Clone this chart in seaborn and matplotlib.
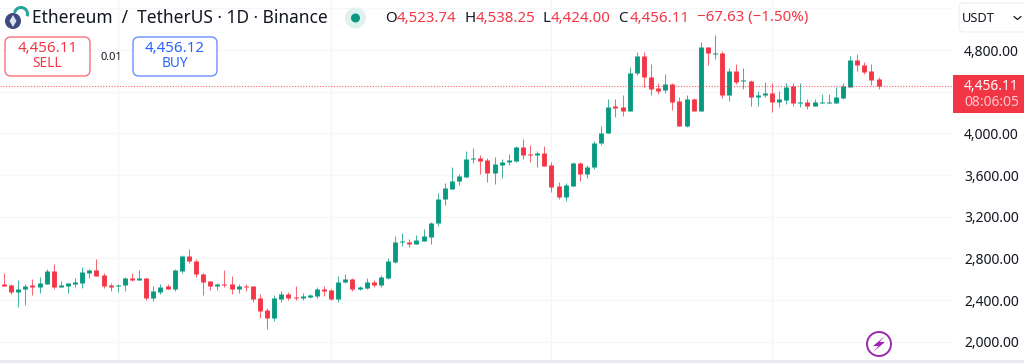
import numpy as np
import pandas as pd
import matplotlib
matplotlib.use('Agg')
import matplotlib.pyplot as plt
from matplotlib.patches import Circle, FancyBboxPatch, Polygon, Rectangle, Wedge
import seaborn as sns

# Daily ETH/USDT candles
opens = [2554, 2544, 2480, 2502, 2541, 2525, 2557, 2675, 2528, 2534,
         2557, 2563, 2662, 2688, 2637, 2544, 2531, 2541, 2611, 2595,
         2611, 2419, 2480, 2531, 2509, 2682, 2819, 2778, 2650, 2582,
         2531, 2554, 2554, 2509, 2534, 2531, 2416, 2304, 2227, 2410,
         2454, 2429, 2422, 2429, 2442, 2506, 2493, 2410, 2573, 2598,
         2509, 2515, 2576, 2547, 2614, 2765, 2957, 2960, 2941, 2970,
         3008, 3139, 3366, 3469, 3539, 3584, 3754, 3763, 3741, 3622,
         3696, 3725, 3734, 3872, 3798, 3789, 3811, 3696, 3494, 3386,
         3494, 3718, 3610, 3677, 3907, 4003, 4259, 4250, 4214, 4576,
         4742, 4544, 4432, 4413, 4470, 4310, 4070, 4333, 4214, 4826,
         4765, 4771, 4368, 4595, 4499, 4506, 4352, 4365, 4384, 4304,
         4320, 4451, 4291, 4301, 4266, 4291, 4294, 4294, 4339, 4448,
         4704, 4659, 4598, 4523.74]
highs = [2662, 2550, 2592, 2550, 2598, 2621, 2694, 2746, 2582, 2566,
         2608, 2720, 2698, 2797, 2659, 2560, 2554, 2621, 2659, 2688,
         2611, 2538, 2554, 2554, 2694, 2832, 2886, 2790, 2656, 2582,
         2566, 2688, 2630, 2554, 2554, 2534, 2454, 2323, 2445, 2490,
         2474, 2534, 2470, 2458, 2528, 2534, 2502, 2627, 2646, 2611,
         2534, 2614, 2589, 2640, 2803, 3011, 3043, 2982, 3024, 3082,
         3146, 3424, 3523, 3677, 3610, 3827, 3856, 3795, 3760, 3770,
         3750, 3798, 3882, 3942, 3888, 3834, 3878, 3725, 3536, 3520,
         3728, 3722, 3696, 3930, 4067, 4326, 4326, 4365, 4634, 4778,
         4778, 4666, 4480, 4570, 4480, 4346, 4368, 4336, 4877, 4826,
         4947, 4787, 4630, 4662, 4627, 4512, 4406, 4493, 4483, 4410,
         4480, 4480, 4486, 4326, 4333, 4378, 4378, 4448, 4480, 4742,
         4765, 4685, 4666, 4538.25]
lows = [2534, 2458, 2336, 2355, 2448, 2464, 2554, 2509, 2525, 2470,
        2528, 2515, 2614, 2627, 2515, 2486, 2477, 2490, 2582, 2592,
        2403, 2387, 2461, 2502, 2490, 2662, 2752, 2624, 2448, 2493,
        2499, 2522, 2461, 2467, 2490, 2381, 2227, 2122, 2202, 2384,
        2403, 2400, 2397, 2419, 2419, 2442, 2397, 2381, 2560, 2490,
        2499, 2506, 2528, 2528, 2598, 2758, 2922, 2912, 2938, 2966,
        2941, 3107, 3315, 3462, 3507, 3584, 3712, 3613, 3530, 3510,
        3574, 3699, 3728, 3750, 3722, 3677, 3686, 3434, 3373, 3354,
        3494, 3546, 3568, 3654, 3885, 4000, 4154, 4166, 4214, 4563,
        4448, 4365, 4374, 4390, 4221, 4070, 4064, 4211, 4211, 4653,
        4710, 4336, 4314, 4477, 4429, 4266, 4259, 4352, 4208, 4256,
        4282, 4266, 4253, 4237, 4262, 4288, 4288, 4288, 4333, 4448,
        4602, 4570, 4464, 4424.00]
closes = [2538, 2480, 2506, 2534, 2528, 2560, 2675, 2522, 2541, 2560,
          2570, 2666, 2688, 2634, 2534, 2528, 2544, 2611, 2592, 2611,
          2416, 2483, 2528, 2509, 2688, 2819, 2774, 2646, 2576, 2531,
          2554, 2544, 2506, 2531, 2522, 2410, 2298, 2227, 2416, 2454,
          2416, 2416, 2435, 2448, 2506, 2486, 2410, 2576, 2598, 2509,
          2525, 2576, 2547, 2621, 2774, 2954, 2966, 2941, 2973, 3014,
          3142, 3370, 3475, 3546, 3590, 3757, 3763, 3738, 3622, 3706,
          3725, 3741, 3872, 3792, 3789, 3811, 3690, 3488, 3386, 3501,
          3718, 3610, 3680, 3907, 4006, 4256, 4246, 4211, 4582, 4742,
          4541, 4429, 4410, 4470, 4304, 4070, 4333, 4214, 4826, 4771,
          4774, 4368, 4595, 4493, 4509, 4352, 4368, 4384, 4304, 4326,
          4448, 4291, 4301, 4266, 4301, 4301, 4301, 4346, 4451, 4704,
          4653, 4592, 4509, 4456.11]
y_ticks = [2000, 2400, 2800, 3200, 3600, 4000, 4400, 4800, 5200]
y_tick_labels = ['2,000.00', '2,400.00', '2,800.00', '3,200.00', '3,600.00',
                 '4,000.00', '', '4,800.00', '']
month_starts = [16, 46, 77, 108]
last_price = 4456.11

GREEN = '#089981'
RED = '#f23645'
INK = '#131722'
FONT = ['Noto Sans', 'DejaVu Sans']

sns.set_theme(style='white')
plt.rcParams['font.family'] = FONT

days = np.arange(len(opens))
direction = np.where(np.array(closes) >= np.array(opens), 'up', 'down')
palette = {'up': GREEN, 'down': RED}

# one row per wick / body end, lineplot joins them per day
wicks = pd.DataFrame({'day': np.tile(days, 2), 'price': highs + lows,
                      'dir': np.tile(direction, 2)})
bodies = pd.DataFrame({'day': np.tile(days, 2), 'price': opens + closes,
                       'dir': np.tile(direction, 2)})

fig = plt.figure(figsize=(10.24, 3.63), dpi=100, facecolor='white')
ax = fig.add_axes([0, 3 / 363, 953 / 1024, 360 / 363])

sns.lineplot(data=wicks, x='day', y='price', hue='dir', units='day', estimator=None,
             palette=palette, legend=False, lw=0.75, solid_capstyle='butt', alpha=0.75, ax=ax)
sns.lineplot(data=bodies, x='day', y='price', hue='dir', units='day', estimator=None,
             palette=palette, legend=False, lw=3.5, solid_capstyle='butt', ax=ax)

ax.axhline(last_price, color=RED, lw=0.8, ls=(0, (1, 1.5)), alpha=0.8, zorder=3)

ax.set_xlim(-0.5626, 133.47)
ax.set_ylim(1824, 5280)
ax.set_xticks(month_starts)
ax.set_xticklabels([])
ax.set_yticks(y_ticks)
ax.set_yticklabels(y_tick_labels)
ax.yaxis.tick_right()
ax.tick_params(axis='both', length=0)
ax.tick_params(axis='y', labelsize=10, labelcolor=INK, pad=8)
ax.grid(True, color='#f5f6f8', lw=0.9)
ax.set_axisbelow(True)
ax.set_xlabel('')
ax.set_ylabel('')
for side in ax.spines.values():
    side.set_visible(False)

# toolbar and price widgets, overlay axes in pixels
ui = fig.add_axes([0, 0, 1, 1], facecolor='none', zorder=10)
ui.set_xlim(0, 1024)
ui.set_ylim(363, 0)
ui.axis('off')

ui.add_patch(Rectangle((0, 360), 1024, 3, color='#e9eaf0', lw=0))

# coin icon
ui.add_patch(Wedge((21, 14), 8, 190, 20, width=3, color='#26a69a', lw=0))
ui.add_patch(Circle((13, 21), 8, color='#3c4a80', lw=0))
ui.add_patch(Polygon([(13, 15), (16.5, 21), (13, 27), (9.5, 21)], color='#dfe3f2', lw=0))

ui.text(32, 18, 'Ethereum  /  TetherUS · 1D · Binance', fontsize=12.5, color=INK, va='center')

ui.add_patch(Circle((355.5, 18), 10.5, color='#e0f2ef', lw=0))
ui.add_patch(Circle((355.5, 18), 4.5, color=GREEN, lw=0))

ohlc = [(385, 'O', INK), (397, '4,523.74', RED), (464, 'H', INK), (476, '4,538.25', RED),
        (543, 'L', INK), (551, '4,424.00', RED), (618, 'C', INK), (630, '4,456.11', RED),
        (697, '−67.63 (−1.50%)', RED)]
for x, label, colour in ohlc:
    ui.text(x, 18, label, fontsize=10.8, color=colour, va='center')

ui.add_patch(FancyBboxPatch((5, 37), 85, 39, boxstyle='round,pad=0,rounding_size=6',
                            fc='white', ec='#f7707c', lw=1))
ui.text(47.5, 48, '4,456.11', fontsize=10.8, color=RED, ha='center', va='center')
ui.text(47.5, 63.5, 'SELL', fontsize=9.8, color=RED, ha='center', va='center')
ui.text(111, 57, '0.01', fontsize=8, color=INK, ha='center', va='center')
ui.add_patch(FancyBboxPatch((133, 37), 84, 39, boxstyle='round,pad=0,rounding_size=6',
                            fc='white', ec='#6b8eff', lw=1))
ui.text(175, 48, '4,456.12', fontsize=10.8, color='#2962ff', ha='center', va='center')
ui.text(175, 63.5, 'BUY', fontsize=9.8, color='#2962ff', ha='center', va='center')

ui.add_patch(FancyBboxPatch((959, 3), 70, 29, boxstyle='round,pad=0,rounding_size=5',
                            fc='white', ec='#eceef2', lw=0.8))
ui.text(962, 18, 'USDT', fontsize=9.2, color=INK, va='center')
ui.plot([1014, 1017.5, 1021], [16.5, 19.5, 16.5], color=INK, lw=0.9)

ui.add_patch(Rectangle((953, 75), 71, 38, color=RED, lw=0))
ui.text(1019, 86, '4,456.11', fontsize=10, color='white', ha='right', va='center')
ui.text(1019, 102, '08:06:05', fontsize=10, color='#fbc9ce', ha='right', va='center')

# lightning badge
ui.add_patch(Circle((879, 344), 12, fc='white', ec='#9c27b0', lw=1.4))
ui.add_patch(Polygon([(885, 336), (873, 346), (878.5, 346), (873, 352), (885, 342), (879.5, 342)],
                     color='#9c27b0', lw=0))

fig.savefig('out.png', dpi=100, facecolor='white')
